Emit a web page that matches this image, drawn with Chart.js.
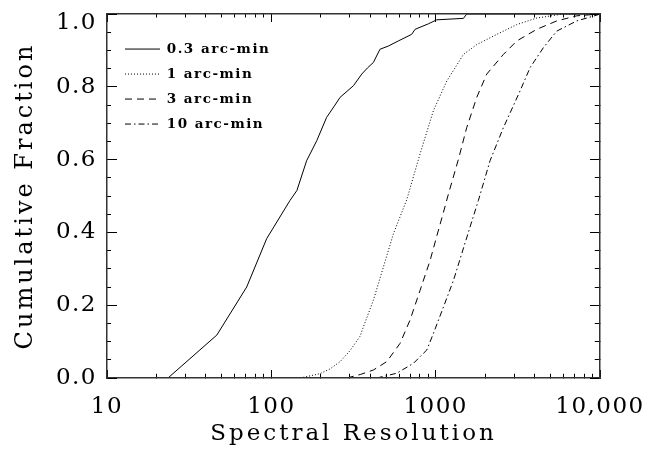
<!DOCTYPE html>
<html>
<head>
<meta charset="utf-8">
<script src="https://cdn.jsdelivr.net/npm/chart.js@4.4.1/dist/chart.umd.min.js"></script>
<style>
  html, body { margin: 0; padding: 0; background: #fff; }
  #cum-chart { display: block; }
</style>
</head>
<body>
<canvas id="cum-chart" width="649" height="454"></canvas>
<script>
// cumulative fraction of spectral resolution, one curve per aperture
const seriesLabels = ["0.3 arc-min", "1 arc-min", "3 arc-min", "10 arc-min"];

const res03 = [23.5, 46.6, 70.8, 93.7, 130, 143, 164, 189, 217, 240, 262, 316, 355, 385, 418, 458, 515, 593, 714, 750, 903, 1014, 1476, 1545, 10000];
const frac03 = [0, 0.118, 0.25, 0.383, 0.488, 0.515, 0.597, 0.652, 0.716, 0.745, 0.771, 0.803, 0.835, 0.852, 0.867, 0.903, 0.912, 0.926, 0.944, 0.958, 0.973, 0.984, 0.988, 1.0, 1.0];

const res1 = [150, 198, 228, 262, 301, 347, 363, 418, 481, 553, 667, 804, 968, 1169, 1476, 1779, 2355, 3118, 4125, 5988, 10000];
const frac1 = [0, 0.012, 0.025, 0.045, 0.075, 0.115, 0.14, 0.214, 0.305, 0.396, 0.49, 0.616, 0.734, 0.816, 0.889, 0.916, 0.944, 0.971, 0.989, 1.0, 1.0];

const res3 = [288, 350, 418, 504, 607, 698, 804, 925, 1016, 1115, 1195, 1374, 1545, 1779, 2046, 2584, 3118, 4125, 5457, 7222, 10000];
const frac3 = [0, 0.01, 0.022, 0.045, 0.095, 0.159, 0.241, 0.323, 0.39, 0.455, 0.505, 0.6, 0.688, 0.771, 0.835, 0.889, 0.926, 0.958, 0.981, 0.995, 1.0];

const res10 = [438, 579, 731, 883, 968, 1115, 1283, 1442, 1619, 1820, 2143, 2584, 3265, 3758, 4531, 5457, 7222, 9570, 10000];
const frac10 = [0, 0.013, 0.04, 0.077, 0.122, 0.195, 0.268, 0.342, 0.415, 0.488, 0.597, 0.688, 0.789, 0.853, 0.908, 0.953, 0.981, 0.997, 1.0];

const xTickValues = [10, 100, 1000, 10000];
const xTickLabels = ["10", "100", "1000", "10,000"];
const yTickLabels = ["0.0", "0.2", "0.4", "0.6", "0.8", "1.0"];

const FONT = "'DejaVu Serif', 'Liberation Serif', serif";
const INK = "#000";
const AXIS = "#333";

function pts(xs, ys) {
  return xs.map((x, i) => ({ x: x, y: ys[i] }));
}

// 10, 20, ... 90, 100, 200 ... 10000 for the log tick marks
const logTicks = [];
for (let d = 10; d < 10000; d *= 10) {
  for (let m = 1; m < 10; m++) logTicks.push(m * d);
}
logTicks.push(10000);

function isDecade(v) {
  const l = Math.log10(v);
  return Math.abs(l - Math.round(l)) < 1e-9;
}

function logAxis(position, showLabels, minorDash) {
  return {
    type: "logarithmic",
    position: position,
    min: 10,
    max: 10000,
    afterBuildTicks: (axis) => { axis.ticks = logTicks.map((v) => ({ value: v })); },
    afterFit: (s) => {
      s.height = showLabels ? 76 : 14;
      s.paddingLeft = 0;
      s.paddingRight = 0;
    },
    border: { display: true, color: AXIS, width: 1.5, z: 1 },
    grid: {
      drawOnChartArea: false,
      tickLength: -8,
      tickColor: INK,
      tickWidth: 1,
      z: 1,
      tickBorderDash: (c) => (isDecade(c.tick.value) ? [] : minorDash),
    },
    ticks: {
      display: showLabels,
      autoSkip: false,
      maxRotation: 0,
      padding: 23,
      color: INK,
      font: { family: FONT, size: 23 },
      callback: (v) => {
        const k = xTickValues.indexOf(v);
        return k >= 0 ? xTickLabels[k] : "";
      },
    },
    title: {
      display: showLabels,
      text: "Spectral Resolution",
      color: INK,
      font: { family: FONT, size: 23 },
      padding: { top: 0, bottom: 6 },
    },
  };
}

function fracAxis(position, showLabels, minorDash) {
  return {
    type: "linear",
    position: position,
    min: 0,
    max: 1,
    afterFit: (s) => {
      s.width = showLabels ? 107 : 49;
      s.paddingTop = 0;
      s.paddingBottom = 0;
    },
    border: { display: true, color: AXIS, width: 1.5, z: 1 },
    grid: {
      drawOnChartArea: false,
      tickLength: -10,
      tickColor: INK,
      tickWidth: 1,
      z: 1,
      tickBorderDash: (c) => (c.index % 4 === 0 ? [] : minorDash),
    },
    ticks: {
      display: showLabels,
      stepSize: 0.05,
      autoSkip: false,
      padding: 20,
      color: INK,
      font: { family: FONT, size: 23, lineHeight: 0.78 },
      callback: (v, i) => {
        if (i % 4 !== 0) return "";
        const k = i / 4;
        // the top label sits just under the frame, as in the original
        return k === yTickLabels.length - 1 ? ["", yTickLabels[k]] : yTickLabels[k];
      },
    },
    title: {
      display: showLabels,
      text: "Cumulative Fraction",
      color: INK,
      font: { family: FONT, size: 24 },
      padding: { top: 11, bottom: 0 },
    },
  };
}

// wide IDL-like letter spacing: labels/legend first, titles after datasets
const spacing = {
  id: "spacing",
  beforeDraw(chart) { chart.ctx.letterSpacing = "1.5px"; },
  afterDatasetsDraw(chart) { chart.ctx.letterSpacing = "3px"; },
};

// put the legend box in the upper left of the plot
const legendSpot = {
  id: "legendSpot",
  afterLayout(chart) {
    const lg = chart.legend;
    const a = chart.chartArea;
    lg.left = a.left + 6.5;
    lg.top = a.top + 16.8;
    lg.width = 200;
    lg.height = 130;
    lg.right = lg.left + lg.width;
    lg.bottom = lg.top + lg.height;
  },
};

const line = (label, data, dash) => ({
  label: label,
  data: data,
  borderColor: INK,
  backgroundColor: "transparent",
  borderWidth: 1,
  borderDash: dash,
  pointRadius: 0,
  fill: false,
  tension: 0,
});

new Chart(document.getElementById("cum-chart"), {
  type: "line",
  data: {
    datasets: [
      line(seriesLabels[0], pts(res03, frac03), []),
      line(seriesLabels[1], pts(res1, frac1), [1, 2]),
      line(seriesLabels[2], pts(res3, frac3), [7, 5]),
      line(seriesLabels[3], pts(res10, frac10), [6, 3, 1.5, 3]),
    ],
  },
  options: {
    responsive: false,
    animation: false,
    layout: { padding: 0 },
    scales: {
      x: logAxis("bottom", true, [4.75, 100]),
      x2: logAxis("top", false, [0, 4.5, 100]),
      y: fracAxis("left", true, [0, 6, 100]),
      y2: fracAxis("right", false, [5.75, 100]),
    },
    plugins: {
      tooltip: { enabled: false },
      legend: {
        display: true,
        position: "chartArea",
        align: "start",
        labels: {
          usePointStyle: true,
          pointStyle: "line",
          pointStyleWidth: 35,
          padding: 11.5,
          color: INK,
          font: { family: FONT, size: 13.5, weight: "bold" },
          generateLabels: (chart) =>
            Chart.defaults.plugins.legend.labels.generateLabels(chart).map((it, i) => ({
              ...it,
              lineDash: chart.data.datasets[i].borderDash,
              lineWidth: 1,
              strokeStyle: INK,
            })),
        },
      },
    },
  },
  plugins: [spacing, legendSpot],
});
</script>
</body>
</html>
